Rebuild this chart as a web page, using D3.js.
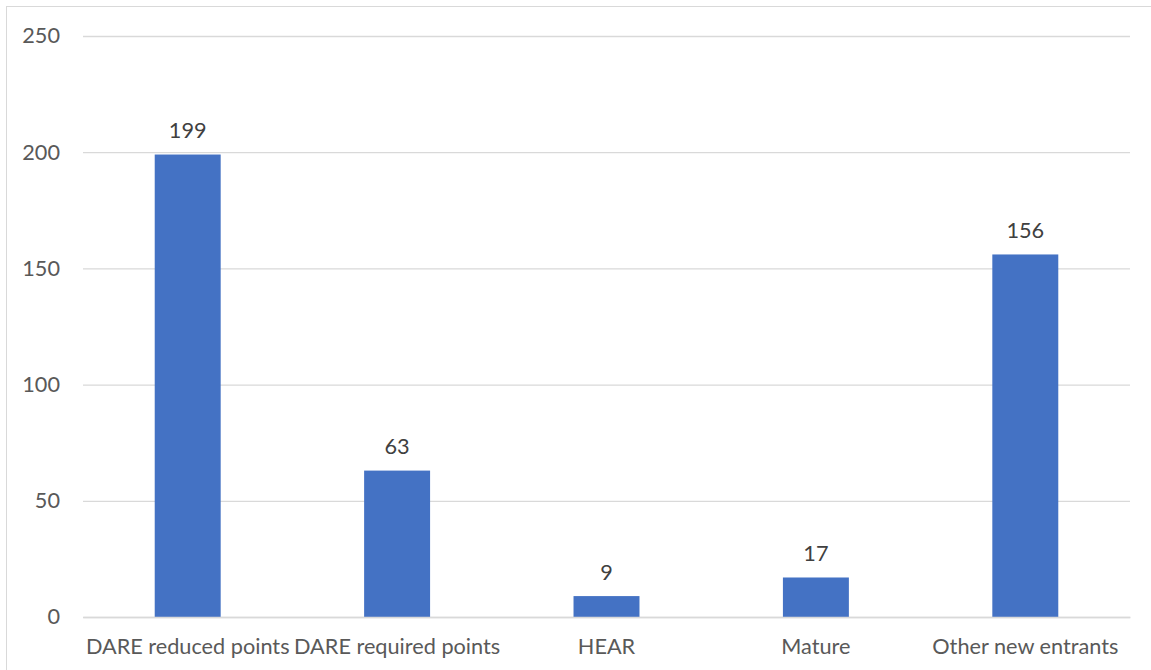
<!DOCTYPE html>
<html><head><meta charset="utf-8">
<script src="https://cdn.jsdelivr.net/npm/d3@7"></script>
<style>body{margin:0;background:#fff;} text{font-family:Lato,"Open Sans",sans-serif;}</style>
</head><body>
<svg id="chart" width="1151" height="670"></svg>
<script>
const categories = ["DARE reduced points","DARE required points","HEAR","Mature","Other new entrants"];
const values = [199, 63, 9, 17, 156];
const yTicks = [0, 50, 100, 150, 200, 250];

const svg = d3.select("#chart");
const W = 1151, H = 670;
const m = {left: 83, right: 21, top: 36, bottom: 53};
const FS = "21.7px";

// frame
svg.append("rect").attr("x", 6.5).attr("y", 6.5).attr("width", W + 10).attr("height", H + 10)
  .attr("fill", "none").attr("stroke", "#D9D9D9").attr("stroke-width", 1);

const x = d3.scaleBand().domain(categories).range([m.left, W - m.right]).paddingInner(0.685).paddingOuter(0.3425);
const y = d3.scaleLinear().domain([0, 250]).range([H - m.bottom, m.top]);

const gy = svg.append("g").attr("transform", `translate(${m.left},0)`)
  .call(d3.axisLeft(y).tickValues(yTicks).tickSize(-(W - m.right - m.left)).tickPadding(23));
gy.select(".domain").remove();
gy.selectAll(".tick line").attr("stroke", "#D9D9D9").attr("stroke-width", 1.3);
gy.selectAll(".tick text").attr("fill", "#595959").style("font-size", FS);

svg.selectAll("rect.bar").data(values).enter().append("rect").attr("class", "bar")
  .attr("x", (d, i) => x(categories[i]))
  .attr("width", x.bandwidth())
  .attr("y", d => y(d))
  .attr("height", d => y(0) - y(d))
  .attr("fill", "#4472C4");

svg.selectAll("text.val").data(values).enter().append("text").attr("class", "val")
  .attr("x", (d, i) => x(categories[i]) + x.bandwidth() / 2)
  .attr("y", d => y(d) - 16.5)
  .attr("text-anchor", "middle").attr("fill", "#404040").style("font-size", FS)
  .text(d => d);

const gx = svg.append("g").attr("transform", `translate(0,${y(0)})`)
  .call(d3.axisBottom(x).tickSize(0).tickPadding(22));
gx.select(".domain").attr("stroke", "#D9D9D9").attr("stroke-width", 1.3);
gx.selectAll(".tick text").attr("fill", "#595959").style("font-size", FS);
</script>
</body></html>
